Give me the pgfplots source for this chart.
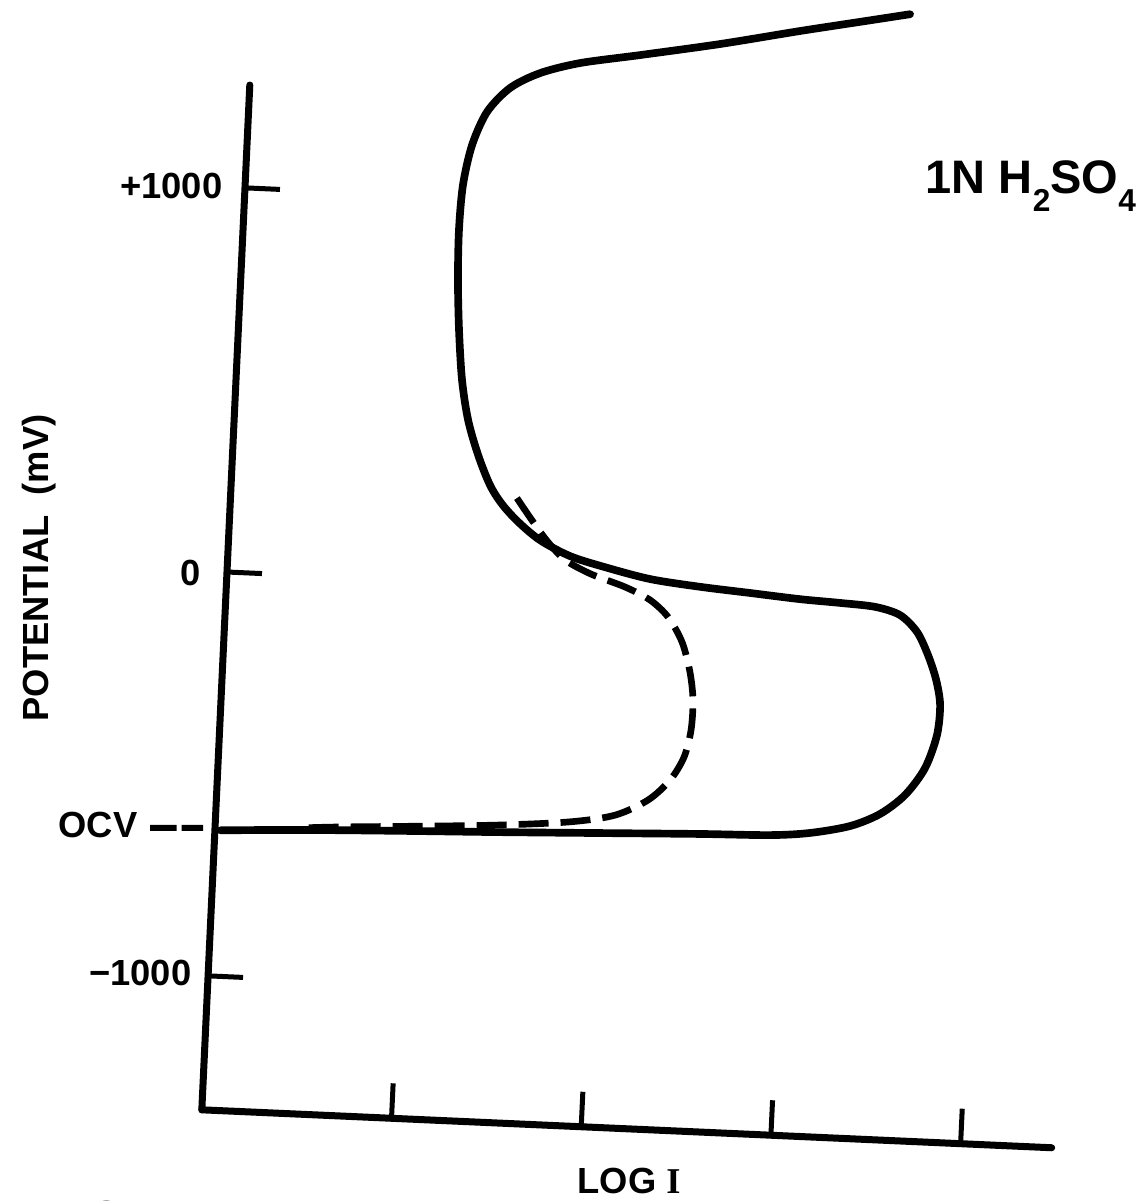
\documentclass[border=0pt]{standalone}
\usepackage{pgfplots}
\pgfplotsset{compat=1.18}
\usepackage{fontspec}
\setmainfont{Liberation Sans}
\newfontfamily\serifI{Liberation Serif}

\begin{document}
\begin{tikzpicture}
% the scanned figure is turned by about 2.6 degrees, so the unit vectors are skewed
\begin{axis}[
    anchor=origin, at={(0,0)},
    x={(56.91pt,-2.541pt)}, y={(5.535pt,118.2pt)},
    xmin=0, xmax=4.48, ymin=-1.365, ymax=1.236,
    axis x line*=bottom, axis y line*=left,
    axis line style={line width=2.1pt, line cap=round},
    xtick={1,2,3,4}, ytick={-1.025,0,0.975},
    xticklabels={}, yticklabels={},
    tick align=inside,
    major tick length=10.5pt,
    tick style={line width=1.5pt, black},
    clip=false,
]
\coordinate (O) at (axis cs:0,0);

% solid curve
\addplot[black, line width=2.3pt, smooth, tension=0.5, line cap=round, line join=round] coordinates {
    (0.03,-0.655)(0.448,-0.645)(0.974,-0.636)(1.500,-0.628)(2.027,-0.619)
    (2.553,-0.610)(2.921,-0.605)(3.131,-0.595)(3.340,-0.573)(3.495,-0.539)
    (3.622,-0.488)(3.720,-0.418)(3.775,-0.333)(3.784,-0.256)(3.757,-0.193)
    (3.708,-0.131)(3.645,-0.074)(3.551,-0.033)(3.418,-0.015)(3.233,-0.009)
    (3.021,-0.004)(2.757,0.006)(2.492,0.016)(2.227,0.030)(1.987,0.055)
    (1.801,0.079)(1.639,0.116)(1.519,0.160)(1.430,0.203)(1.362,0.250)
    (1.292,0.325)(1.231,0.412)(1.189,0.513)(1.161,0.639)(1.143,0.766)
    (1.136,0.892)(1.146,1.007)(1.184,1.109)(1.255,1.195)(1.370,1.258)
    (1.524,1.299)(1.732,1.329)(2.046,1.356)(2.464,1.393)(2.881,1.435)
    (3.195,1.465)(3.456,1.490)
};

% dashed curve
\addplot[black, line width=2pt, smooth, tension=0.5, dash pattern=on 9pt off 3.6pt] coordinates {
    (1.507,0.220)(1.586,0.169)(1.676,0.115)(1.775,0.069)(1.915,0.036)
    (2.098,0.007)(2.232,-0.023)(2.331,-0.064)(2.411,-0.126)(2.460,-0.201)
    (2.483,-0.272)(2.480,-0.348)(2.450,-0.417)(2.382,-0.477)(2.271,-0.530)
    (2.101,-0.572)(1.866,-0.594)(1.498,-0.610)(1.078,-0.622)(0.657,-0.633)
    (0.447,-0.640)
};

% OCV marker left of the axis
\addplot[black, line width=1.8pt, dash pattern=on 8pt off 1.5pt] coordinates {
    (-0.342,-0.657)(-0.063,-0.651)
};
\end{axis}

% labels, in pixel positions of the scan
\begin{scope}[shift={(O)}, x=0.3pt, y=-0.3pt, shift={(-227,-572)},
    every node/.style={inner sep=0pt, font=\fontsize{10.9pt}{13pt}\selectfont\bfseries}]
\node[anchor=base east] at (223,198) {+1000};
\node[anchor=base east] at (201,585) {0};
\node[anchor=base east] at (192,985) {−1000};
\node[anchor=base west] at (58,837) {OCV};
\node[rotate=90] at (39,568) {POTENTIAL\ \ (mV)};
\node[anchor=base west] at (577,1193) {LOG {\serifI\bfseries I}};
\node[anchor=base west] at (60,1226) {FIG. 1};
\node[anchor=base west, font=\fontsize{14.1pt}{16pt}\selectfont\bfseries] at (925,193)
    {1N H\raisebox{-5.7pt}{\fontsize{9.5pt}{10pt}\selectfont 2}SO\raisebox{-5.7pt}{\fontsize{9.5pt}{10pt}\selectfont 4}};
\pgfresetboundingbox
\path[use as bounding box] (0,0) rectangle (1139,1201);
\end{scope}
\end{tikzpicture}
\end{document}
